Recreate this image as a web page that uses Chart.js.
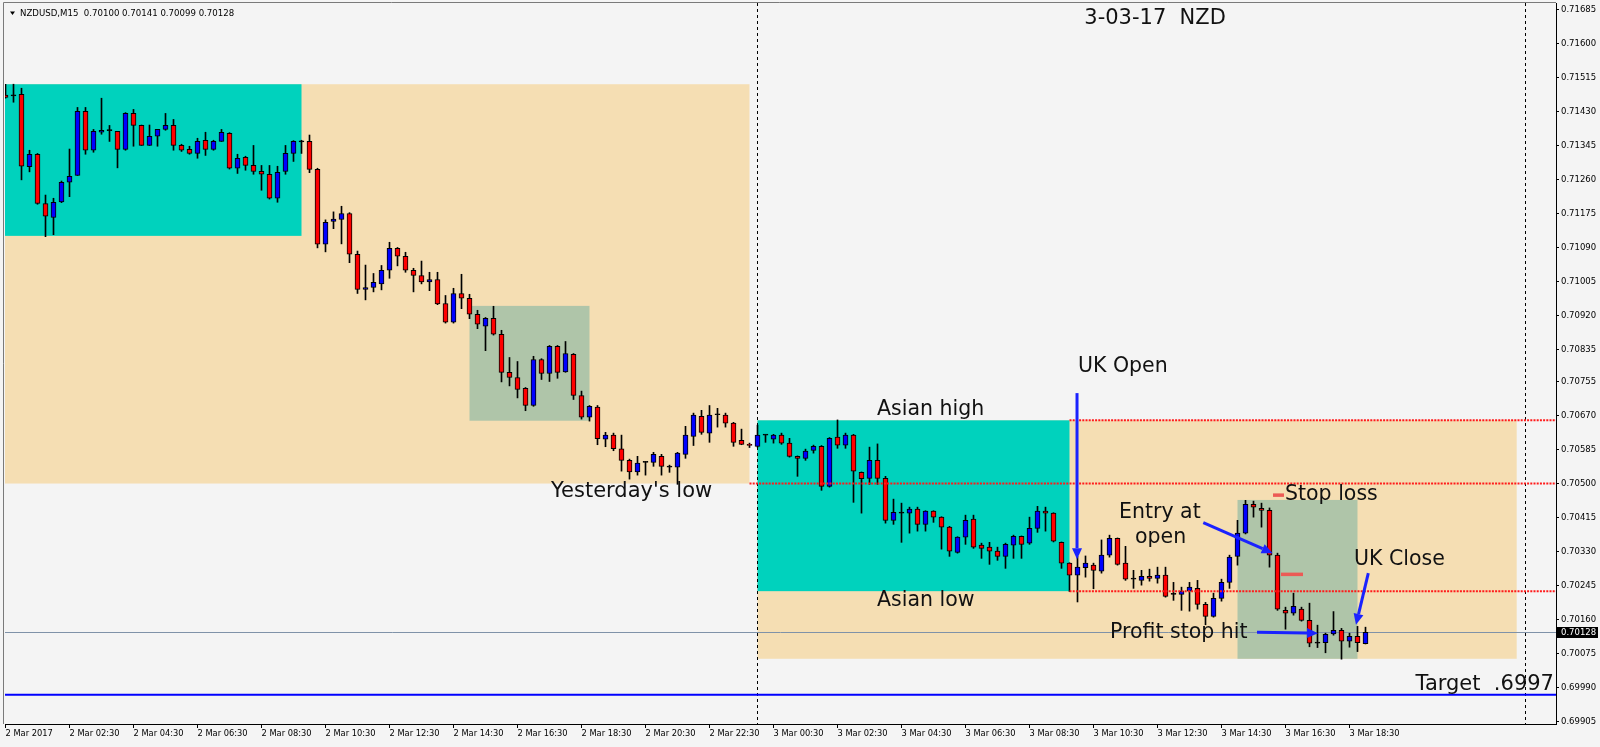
<!DOCTYPE html>
<html>
<head>
<meta charset="utf-8">
<title>NZDUSD M15</title>
<script src="https://cdn.jsdelivr.net/npm/chart.js@4.4.1/dist/chart.umd.min.js"></script>
<style>
    html, body { margin: 0; padding: 0; background: #f4f4f4; }
    #wrap { width: 1600px; height: 747px; }
</style>
</head>
<body>
<div id="wrap"><canvas id="chart" width="1600" height="747"></canvas></div>
<script>
// NZDUSD M15, bars from 2 Mar 00:30 to 3 Mar 19:00
const symbol = "NZDUSD,M15";

const barOpen = [
    0.71471, 0.71469, 0.71473, 0.71292, 0.71323, 0.71200, 0.71165, 0.71204, 0.71253, 0.71270,
    0.71430, 0.71333, 0.71378, 0.71382, 0.71380, 0.71335, 0.71425, 0.71395, 0.71345, 0.71368,
    0.71385, 0.71395, 0.71345, 0.71335, 0.71325, 0.71358, 0.71335, 0.71355, 0.71375, 0.71288,
    0.71315, 0.71295, 0.71280, 0.71273, 0.71213, 0.71280, 0.71325, 0.71354, 0.71355, 0.71285,
    0.71098, 0.71155, 0.71160, 0.71175, 0.71073, 0.70985, 0.70990, 0.70999, 0.71033, 0.71088,
    0.71068, 0.71033, 0.71020, 0.71004, 0.71010, 0.70950, 0.70903, 0.70975, 0.70963, 0.70923,
    0.70893, 0.70913, 0.70873, 0.70778, 0.70765, 0.70738, 0.70695, 0.70810, 0.70775, 0.70843,
    0.70779, 0.70823, 0.70720, 0.70666, 0.70691, 0.70611, 0.70621, 0.70587, 0.70558, 0.70529,
    0.70553, 0.70553, 0.70568, 0.70541, 0.70541, 0.70573, 0.70618, 0.70668, 0.70626, 0.70672,
    0.70671, 0.70651, 0.70608, 0.70598, 0.70593, 0.70621, 0.70611, 0.70621, 0.70601, 0.70568,
    0.70563, 0.70583, 0.70593, 0.70493, 0.70616, 0.70596, 0.70621, 0.70528, 0.70513, 0.70558,
    0.70513, 0.70408, 0.70426, 0.70426, 0.70436, 0.70398, 0.70431, 0.70416, 0.70391, 0.70328,
    0.70366, 0.70411, 0.70346, 0.70341, 0.70331, 0.70318, 0.70346, 0.70368, 0.70351, 0.70388,
    0.70431, 0.70426, 0.70353, 0.70301, 0.70271, 0.70290, 0.70296, 0.70281, 0.70321, 0.70363,
    0.70301, 0.70261, 0.70258, 0.70268, 0.70263, 0.70271, 0.70223, 0.70223, 0.70231, 0.70238,
    0.70198, 0.70168, 0.70213, 0.70253, 0.70318, 0.70376, 0.70448, 0.70438, 0.70433, 0.70321,
    0.70183, 0.70176, 0.70186, 0.70158, 0.70101, 0.70102, 0.70124, 0.70133, 0.70106, 0.70118,
    0.70100
];
const barHigh = [
    0.71498, 0.71498, 0.71488, 0.71333, 0.71325, 0.71221, 0.71213, 0.71256, 0.71336, 0.71440,
    0.71440, 0.71385, 0.71463, 0.71395, 0.71380, 0.71427, 0.71435, 0.71396, 0.71396, 0.71385,
    0.71425, 0.71410, 0.71348, 0.71343, 0.71363, 0.71378, 0.71358, 0.71385, 0.71377, 0.71323,
    0.71318, 0.71345, 0.71295, 0.71295, 0.71293, 0.71345, 0.71357, 0.71358, 0.71371, 0.71288,
    0.71159, 0.71179, 0.71193, 0.71177, 0.71081, 0.71046, 0.71025, 0.71045, 0.71103, 0.71090,
    0.71078, 0.71038, 0.71056, 0.71028, 0.71028, 0.70970, 0.70988, 0.71023, 0.70973, 0.70933,
    0.70915, 0.70943, 0.70883, 0.70815, 0.70805, 0.70740, 0.70818, 0.70812, 0.70845, 0.70845,
    0.70855, 0.70825, 0.70731, 0.70695, 0.70695, 0.70628, 0.70626, 0.70621, 0.70561, 0.70568,
    0.70555, 0.70578, 0.70573, 0.70546, 0.70578, 0.70643, 0.70676, 0.70683, 0.70695, 0.70688,
    0.70676, 0.70653, 0.70636, 0.70601, 0.70646, 0.70622, 0.70623, 0.70626, 0.70613, 0.70569,
    0.70586, 0.70596, 0.70595, 0.70615, 0.70659, 0.70626, 0.70623, 0.70529, 0.70591, 0.70599,
    0.70518, 0.70461, 0.70451, 0.70441, 0.70441, 0.70432, 0.70432, 0.70417, 0.70393, 0.70367,
    0.70421, 0.70421, 0.70351, 0.70353, 0.70341, 0.70351, 0.70371, 0.70369, 0.70416, 0.70443,
    0.70441, 0.70427, 0.70354, 0.70302, 0.70318, 0.70319, 0.70301, 0.70359, 0.70371, 0.70364,
    0.70343, 0.70283, 0.70283, 0.70286, 0.70291, 0.70291, 0.70253, 0.70241, 0.70253, 0.70258,
    0.70203, 0.70226, 0.70261, 0.70321, 0.70408, 0.70458, 0.70456, 0.70451, 0.70439, 0.70326,
    0.70191, 0.70226, 0.70191, 0.70201, 0.70146, 0.70126, 0.70180, 0.70138, 0.70126, 0.70143,
    0.70141
];
const barLow = [
    0.71463, 0.71453, 0.71259, 0.71279, 0.71198, 0.71117, 0.71122, 0.71202, 0.71217, 0.71270,
    0.71323, 0.71328, 0.71373, 0.71355, 0.71289, 0.71333, 0.71343, 0.71345, 0.71345, 0.71343,
    0.71383, 0.71333, 0.71330, 0.71323, 0.71313, 0.71320, 0.71333, 0.71355, 0.71286, 0.71275,
    0.71283, 0.71273, 0.71233, 0.71211, 0.71203, 0.71273, 0.71305, 0.71325, 0.71277, 0.71089,
    0.71079, 0.71137, 0.71099, 0.71052, 0.70975, 0.70959, 0.70979, 0.70984, 0.71013, 0.71044,
    0.71028, 0.70979, 0.70999, 0.70982, 0.70947, 0.70901, 0.70901, 0.70937, 0.70912, 0.70887,
    0.70832, 0.70871, 0.70754, 0.70744, 0.70714, 0.70682, 0.70693, 0.70760, 0.70755, 0.70763,
    0.70778, 0.70710, 0.70661, 0.70656, 0.70597, 0.70592, 0.70582, 0.70531, 0.70511, 0.70521,
    0.70521, 0.70543, 0.70521, 0.70528, 0.70498, 0.70563, 0.70595, 0.70623, 0.70603, 0.70641,
    0.70641, 0.70593, 0.70597, 0.70590, 0.70591, 0.70603, 0.70601, 0.70598, 0.70566, 0.70518,
    0.70558, 0.70576, 0.70483, 0.70491, 0.70588, 0.70588, 0.70453, 0.70426, 0.70498, 0.70498,
    0.70401, 0.70398, 0.70353, 0.70376, 0.70381, 0.70381, 0.70403, 0.70336, 0.70318, 0.70326,
    0.70348, 0.70338, 0.70313, 0.70298, 0.70308, 0.70288, 0.70313, 0.70313, 0.70348, 0.70378,
    0.70381, 0.70354, 0.70288, 0.70230, 0.70204, 0.70266, 0.70237, 0.70276, 0.70316, 0.70296,
    0.70258, 0.70238, 0.70246, 0.70256, 0.70251, 0.70216, 0.70208, 0.70183, 0.70181, 0.70186,
    0.70147, 0.70166, 0.70206, 0.70238, 0.70296, 0.70374, 0.70416, 0.70391, 0.70291, 0.70183,
    0.70136, 0.70171, 0.70156, 0.70092, 0.70090, 0.70077, 0.70121, 0.70061, 0.70091, 0.70080,
    0.70099
];
const barClose = [
    0.71465, 0.71469, 0.71293, 0.71323, 0.71200, 0.71168, 0.71203, 0.71253, 0.71268, 0.71430,
    0.71333, 0.71380, 0.71383, 0.71382, 0.71335, 0.71425, 0.71395, 0.71345, 0.71368, 0.71385,
    0.71395, 0.71345, 0.71333, 0.71325, 0.71355, 0.71335, 0.71355, 0.71378, 0.71288, 0.71313,
    0.71295, 0.71280, 0.71273, 0.71213, 0.71278, 0.71325, 0.71355, 0.71354, 0.71285, 0.71098,
    0.71153, 0.71161, 0.71175, 0.71073, 0.70985, 0.70990, 0.71003, 0.71033, 0.71088, 0.71068,
    0.71033, 0.71020, 0.71004, 0.71010, 0.70949, 0.70903, 0.70975, 0.70963, 0.70923, 0.70898,
    0.70913, 0.70873, 0.70778, 0.70765, 0.70735, 0.70695, 0.70810, 0.70775, 0.70843, 0.70778,
    0.70825, 0.70720, 0.70666, 0.70693, 0.70612, 0.70621, 0.70587, 0.70558, 0.70529, 0.70551,
    0.70553, 0.70573, 0.70543, 0.70541, 0.70576, 0.70621, 0.70671, 0.70628, 0.70671, 0.70672,
    0.70651, 0.70603, 0.70598, 0.70595, 0.70621, 0.70621, 0.70621, 0.70601, 0.70568, 0.70563,
    0.70581, 0.70593, 0.70493, 0.70613, 0.70596, 0.70621, 0.70531, 0.70512, 0.70558, 0.70513,
    0.70408, 0.70428, 0.70426, 0.70436, 0.70398, 0.70431, 0.70416, 0.70391, 0.70331, 0.70366,
    0.70408, 0.70341, 0.70338, 0.70331, 0.70318, 0.70348, 0.70368, 0.70348, 0.70388, 0.70431,
    0.70426, 0.70356, 0.70301, 0.70271, 0.70291, 0.70301, 0.70283, 0.70321, 0.70363, 0.70298,
    0.70261, 0.70261, 0.70268, 0.70263, 0.70271, 0.70218, 0.70223, 0.70231, 0.70241, 0.70198,
    0.70168, 0.70213, 0.70253, 0.70316, 0.70376, 0.70448, 0.70441, 0.70433, 0.70321, 0.70186,
    0.70176, 0.70193, 0.70158, 0.70101, 0.70101, 0.70123, 0.70133, 0.70106, 0.70118, 0.70102,
    0.70128
];

// time axis: one label every 8 bars
const timeTickIndex = [0, 8, 16, 24, 32, 40, 48, 56, 64, 72, 80, 88, 96, 104, 112, 120, 128, 136, 144, 152, 160, 168];
const timeTickLabels = [
    "2 Mar 2017", "2 Mar 02:30", "2 Mar 04:30", "2 Mar 06:30", "2 Mar 08:30", "2 Mar 10:30",
    "2 Mar 12:30", "2 Mar 14:30", "2 Mar 16:30", "2 Mar 18:30", "2 Mar 20:30", "2 Mar 22:30",
    "3 Mar 00:30", "3 Mar 02:30", "3 Mar 04:30", "3 Mar 06:30", "3 Mar 08:30", "3 Mar 10:30",
    "3 Mar 12:30", "3 Mar 14:30", "3 Mar 16:30", "3 Mar 18:30"
];
const priceTicks = [
    0.71685, 0.71600, 0.71515, 0.71430, 0.71345, 0.71260, 0.71175, 0.71090, 0.71005, 0.70920, 0.70835,
    0.70755, 0.70670, 0.70585, 0.70500, 0.70415, 0.70330, 0.70245, 0.70160, 0.70075, 0.69990, 0.69905
];
const daySeparators = [94, 190];

// levels
const yesterdayLow = 0.70500;
const asianHigh = 0.70658;
const asianLow = 0.70231;
const targetLevel = 0.69972;
const lastPrice = barClose[barClose.length - 1];

// session boxes (bar index / price)
const boxes = [
    { from: -2, to: 93, top: 0.71498, bottom: yesterdayLow, color: "#f5deb3" },
    { from: -2, to: 37, top: 0.71498, bottom: 0.71119, color: "#00d2bd" },
    { from: 58, to: 73, top: 0.70944, bottom: 0.70657, color: "#afc5a9" },
    { from: 94, to: 188.9, top: asianHigh, bottom: 0.70062, color: "#f5deb3" },
    { from: 94, to: 133, top: asianHigh, bottom: asianLow, color: "#00d2bd" },
    { from: 154, to: 169, top: 0.70459, bottom: 0.70062, color: "#afc5a9" }
];
const dottedLevels = [
    { from: 93, price: yesterdayLow },
    { from: 133, price: asianHigh },
    { from: 133, price: asianLow }
];
const stopMarks = [
    { from: 158.44, to: 159.81, price: 0.70471 },
    { from: 159.44, to: 162.19, price: 0.70273 }
];
const notes = [
    { text: "3-03-17  NZD", x: 134.85, y: 0.71663, size: 21 },
    { text: "Asian high", x: 108.94, y: 0.70684 },
    { text: "Yesterday's low", x: 68.19, y: 0.70479, size: 21 },
    { text: "UK Open", x: 134.06, y: 0.70791 },
    { text: "Asian low", x: 108.94, y: 0.70207 },
    { text: "Entry at", x: 139.19, y: 0.70426 },
    { text: "open", x: 141.19, y: 0.70364 },
    { text: "Stop loss", x: 159.94, y: 0.70471 },
    { text: "UK Close", x: 168.56, y: 0.70309 },
    { text: "Profit stop hit", x: 138.06, y: 0.70127 },
    { text: "Target  .6997", x: 193.56, y: 0.69998, align: "right", size: 21 }
];
const arrows = [
    { x1: 133.94, y1: 0.70726, x2: 133.94, y2: 0.70311 },
    { x1: 149.72, y1: 0.70402, x2: 158.4, y2: 0.70326 },
    { x1: 156.44, y1: 0.70128, x2: 164.06, y2: 0.70126 },
    { x1: 170.35, y1: 0.70276, x2: 168.81, y2: 0.70147 }
];

const idx = barOpen.map(function(_, i) { return i; });
const wickData = idx.map(function(i) { return { x: i, y: [barLow[i], barHigh[i]] }; });
const bodyData = idx.map(function(i) { return { x: i, y: [barOpen[i], barClose[i]] }; });
const bodyColors = idx.map(function(i) {
    if (barClose[i] > barOpen[i]) return "#0000ff";
    if (barClose[i] < barOpen[i]) return "#ff0000";
    return "#000000";
});

function drawArrow(ctx, x1, y1, x2, y2) {
    const a = Math.atan2(y2 - y1, x2 - x1);
    const hl = 11, hw = 5;
    const bx = x2 - hl * Math.cos(a), by = y2 - hl * Math.sin(a);
    ctx.beginPath();
    ctx.moveTo(x1, y1);
    ctx.lineTo(bx, by);
    ctx.stroke();
    ctx.beginPath();
    ctx.moveTo(x2, y2);
    ctx.lineTo(bx + hw * Math.sin(a), by - hw * Math.cos(a));
    ctx.lineTo(bx - hw * Math.sin(a), by + hw * Math.cos(a));
    ctx.closePath();
    ctx.fill();
}

const mt4Plugin = {
    id: "mt4",
    beforeDraw: function(chart) {
        const ctx = chart.ctx;
        ctx.save();
        ctx.fillStyle = "#f4f4f4";
        ctx.fillRect(0, 0, chart.width, chart.height);
        ctx.restore();
    },
    beforeDatasetsDraw: function(chart) {
        const ctx = chart.ctx, xs = chart.scales.x, ys = chart.scales.y, area = chart.chartArea;
        ctx.save();
        ctx.beginPath();
        ctx.rect(area.left, area.top, area.right - area.left, area.bottom - area.top);
        ctx.clip();
        boxes.forEach(function(b) {
            const x1 = xs.getPixelForValue(b.from), x2 = xs.getPixelForValue(b.to);
            const y1 = ys.getPixelForValue(b.top), y2 = ys.getPixelForValue(b.bottom);
            ctx.fillStyle = b.color;
            ctx.fillRect(x1, y1, x2 - x1, y2 - y1);
        });
        // day separators
        ctx.strokeStyle = "#000";
        ctx.lineWidth = 1;
        ctx.setLineDash([3, 3]);
        daySeparators.forEach(function(d) {
            const x = Math.round(xs.getPixelForValue(d) - 0.5) + 0.5;
            ctx.beginPath();
            ctx.moveTo(x, area.top);
            ctx.lineTo(x, area.bottom);
            ctx.stroke();
        });
        ctx.setLineDash([]);
        // bid line
        const yb = Math.round(ys.getPixelForValue(lastPrice)) + 0.5;
        ctx.strokeStyle = "#7f92a8";
        ctx.beginPath();
        ctx.moveTo(area.left, yb);
        ctx.lineTo(area.right, yb);
        ctx.stroke();
        ctx.restore();
    },
    afterDatasetsDraw: function(chart) {
        const ctx = chart.ctx, xs = chart.scales.x, ys = chart.scales.y, area = chart.chartArea;
        ctx.save();
        ctx.beginPath();
        ctx.rect(area.left, area.top, area.right - area.left, area.bottom - area.top);
        ctx.clip();
        // red dotted levels
        ctx.strokeStyle = "#ff1a1a";
        ctx.lineWidth = 2;
        ctx.setLineDash([2, 1.2]);
        dottedLevels.forEach(function(l) {
            const y = ys.getPixelForValue(l.price);
            ctx.beginPath();
            ctx.moveTo(xs.getPixelForValue(l.from), y);
            ctx.lineTo(area.right, y);
            ctx.stroke();
        });
        ctx.setLineDash([]);
        // target
        const yt = ys.getPixelForValue(targetLevel);
        ctx.strokeStyle = "#0000ff";
        ctx.lineWidth = 2;
        ctx.beginPath();
        ctx.moveTo(area.left, yt);
        ctx.lineTo(area.right, yt);
        ctx.stroke();
        // stop markers
        ctx.strokeStyle = "#ec5a55";
        ctx.lineWidth = 3.5;
        stopMarks.forEach(function(m) {
            const y = ys.getPixelForValue(m.price);
            ctx.beginPath();
            ctx.moveTo(xs.getPixelForValue(m.from), y);
            ctx.lineTo(xs.getPixelForValue(m.to), y);
            ctx.stroke();
        });
        // arrows
        ctx.strokeStyle = "#1a22ff";
        ctx.fillStyle = "#1a22ff";
        ctx.lineWidth = 3;
        arrows.forEach(function(a) {
            drawArrow(ctx, xs.getPixelForValue(a.x1), ys.getPixelForValue(a.y1),
                xs.getPixelForValue(a.x2), ys.getPixelForValue(a.y2));
        });
        // labels
        ctx.fillStyle = "#111";
        ctx.textBaseline = "middle";
        notes.forEach(function(n) {
            ctx.font = (n.size || 20.5) + "px 'DejaVu Sans'";
            ctx.textAlign = n.align || "left";
            ctx.fillText(n.text, xs.getPixelForValue(n.x), ys.getPixelForValue(n.y));
        });
        ctx.restore();
    },
    afterDraw: function(chart) {
        const ctx = chart.ctx, ys = chart.scales.y, area = chart.chartArea;
        ctx.save();
        // window frame top / left
        ctx.strokeStyle = "#7a7a7a";
        ctx.lineWidth = 1;
        ctx.beginPath();
        ctx.moveTo(3.5, area.bottom);
        ctx.lineTo(3.5, 2.5);
        ctx.lineTo(area.right, 2.5);
        ctx.stroke();
        // title
        ctx.fillStyle = "#000";
        ctx.beginPath();
        ctx.moveTo(10, 11.5);
        ctx.lineTo(15, 11.5);
        ctx.lineTo(12.5, 15);
        ctx.closePath();
        ctx.fill();
        const n = barClose.length - 1;
        ctx.font = "8.6px 'DejaVu Sans'";
        ctx.textAlign = "left";
        ctx.textBaseline = "middle";
        ctx.fillText(symbol + "  " + barOpen[n].toFixed(5) + " " + barHigh[n].toFixed(5) + " " +
            barLow[n].toFixed(5) + " " + barClose[n].toFixed(5), 20, 13.5);
        // last price tag
        const yp = ys.getPixelForValue(lastPrice);
        ctx.fillStyle = "#000";
        ctx.fillRect(area.right, Math.round(yp) - 5, 42, 11);
        ctx.fillStyle = "#fff";
        ctx.font = "8.5px 'DejaVu Sans'";
        ctx.fillText(lastPrice.toFixed(5), area.right + 5, yp + 0.5);
        ctx.restore();
    }
};

new Chart(document.getElementById("chart"), {
    type: "bar",
    data: {
        datasets: [{
            label: "body",
            data: bodyData,
            backgroundColor: bodyColors,
            borderColor: "#000",
            borderWidth: 1,
            borderSkipped: false,
            barThickness: 5,
            minBarLength: 1,
            grouped: false,
            order: 1
        }, {
            label: "wick",
            data: wickData,
            backgroundColor: "#000",
            borderWidth: 0,
            barThickness: 1,
            grouped: false,
            order: 2
        }]
    },
    options: {
        responsive: false,
        animation: false,
        devicePixelRatio: 1,
        events: [],
        layout: { padding: { left: 5, top: 3, right: 0, bottom: 0 } },
        plugins: { legend: { display: false }, tooltip: { enabled: false } },
        scales: {
            x: {
                type: "linear",
                min: -0.0625,
                max: 193.8125,
                offset: false,
                grid: { display: true, drawOnChartArea: false, drawTicks: true, tickLength: 4, color: "#000", offset: false },
                border: { display: true, color: "#000" },
                ticks: {
                    autoSkip: false, maxRotation: 0, minRotation: 0, align: "start", padding: 1, color: "#000",
                    font: { family: "DejaVu Sans", size: 8.3 },
                    callback: function(v, i) { return timeTickLabels[i]; }
                },
                afterBuildTicks: function(s) { s.ticks = timeTickIndex.map(function(v) { return { value: v }; }); },
                afterFit: function(s) { s.height = 23; s.paddingLeft = 0; s.paddingRight = 0; }
            },
            y: {
                position: "right",
                min: 0.69899,
                max: 0.71701,
                grid: { display: true, drawOnChartArea: false, drawTicks: true, tickLength: 3, color: "#000" },
                border: { display: true, color: "#000" },
                ticks: {
                    autoSkip: false, padding: 2, color: "#000",
                    font: { family: "DejaVu Sans", size: 8.5 },
                    callback: function(v) { return Number(v).toFixed(5); }
                },
                afterBuildTicks: function(s) { s.ticks = priceTicks.map(function(v) { return { value: v }; }); },
                afterFit: function(s) { s.width = 44; s.paddingTop = 0; s.paddingBottom = 0; }
            }
        }
    },
    plugins: [mt4Plugin]
});
</script>
</body>
</html>
